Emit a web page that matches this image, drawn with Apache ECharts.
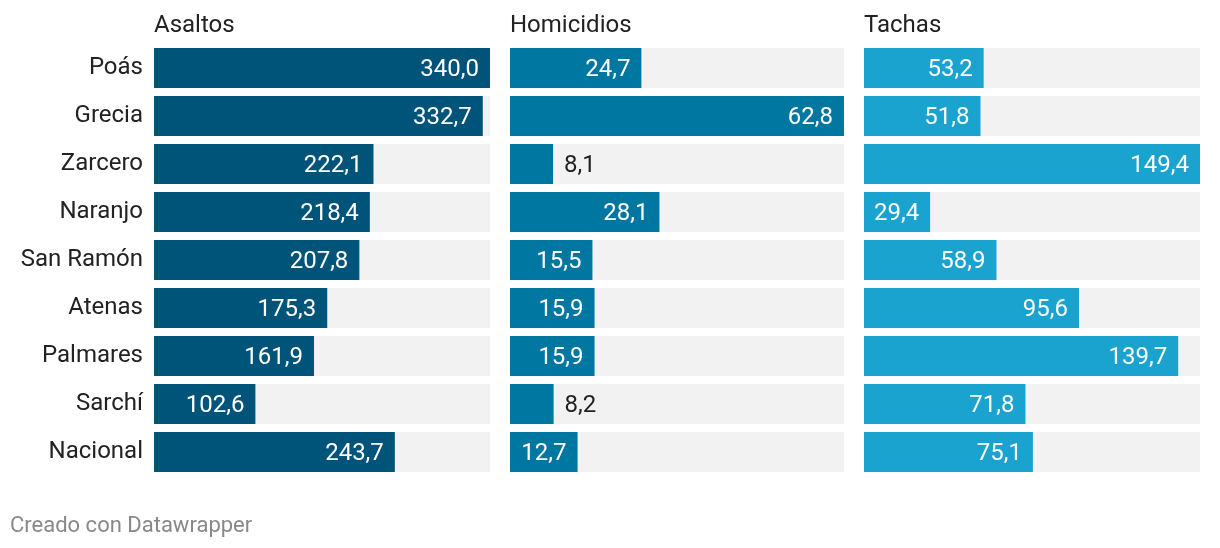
<!DOCTYPE html>
<html><head><meta charset="utf-8">
<script src="https://cdn.jsdelivr.net/npm/echarts@6/dist/echarts.min.js"></script>
<style>html,body{margin:0;padding:0;background:#fff}#c{width:1220px;height:548px}</style>
</head><body><div id="c"></div>
<script>
const categories = ['Poás','Grecia','Zarcero','Naranjo','San Ramón','Atenas','Palmares','Sarchí','Nacional'];
const panelTitles = ['Asaltos','Homicidios','Tachas'];
const asaltos = [340.0,332.7,222.1,218.4,207.8,175.3,161.9,102.6,243.7];
const homicidios = [24.7,62.8,8.1,28.1,15.5,15.9,15.9,8.2,12.7];
const tachas = [53.2,51.8,149.4,29.4,58.9,95.6,139.7,71.8,75.1];
const footer = 'Creado con Datawrapper';

const series = [asaltos, homicidios, tachas];
const colors = ['#005379','#0077a0','#1ba3cf'];
const lefts = [154, 510, 864];
const width = [336, 334, 336];
const font = 'Roboto, sans-serif';
const fmt = v => v.toFixed(1).replace('.', ',');

const chart = echarts.init(document.getElementById('c'), null, {renderer:'canvas'});
const grid = [], xAxis = [], yAxis = [], ser = [], titles = [];
series.forEach((vals, i) => {
  const max = Math.max(...vals);
  grid.push({left: lefts[i], width: width[i], top: 44, height: 432, containLabel: false});
  xAxis.push({type:'value', gridIndex:i, min:0, max:max, show:false});
  yAxis.push({type:'category', gridIndex:i, data:categories, inverse:true,
    axisLine:{show:false}, axisTick:{show:false}, splitLine:{show:false},
    axisLabel:{show:i===0, color:'#222', fontSize:24, fontFamily:font, margin:11,
      padding:[3,0,0,0]}});
  ser.push({type:'bar', xAxisIndex:i, yAxisIndex:i, barWidth:40,
    itemStyle:{color:colors[i]},
    showBackground:true, backgroundStyle:{color:'#f2f2f2'},
    animation:false,
    data: vals.map(v => {
      const inside = v / max >= 0.15;
      return {value:v, label:{show:true, position: inside ? 'insideRight' : 'right',
        distance: 11, offset:[0,1.5],
        color: inside ? '#ffffff' : '#222', fontSize:24, fontFamily:font,
        formatter: () => fmt(v)}};
    })
  });
  titles.push({text:panelTitles[i], left:lefts[i], top:14, padding:0,
    textStyle:{fontSize:24, fontWeight:'normal', color:'#222', fontFamily:font}});
});
titles.push({text:footer, left:10, top:515, padding:0,
  textStyle:{fontSize:22, fontWeight:'normal', color:'#888', fontFamily:font}});

chart.setOption({animation:false, title:titles, grid, xAxis, yAxis, series:ser});
</script></body></html>
